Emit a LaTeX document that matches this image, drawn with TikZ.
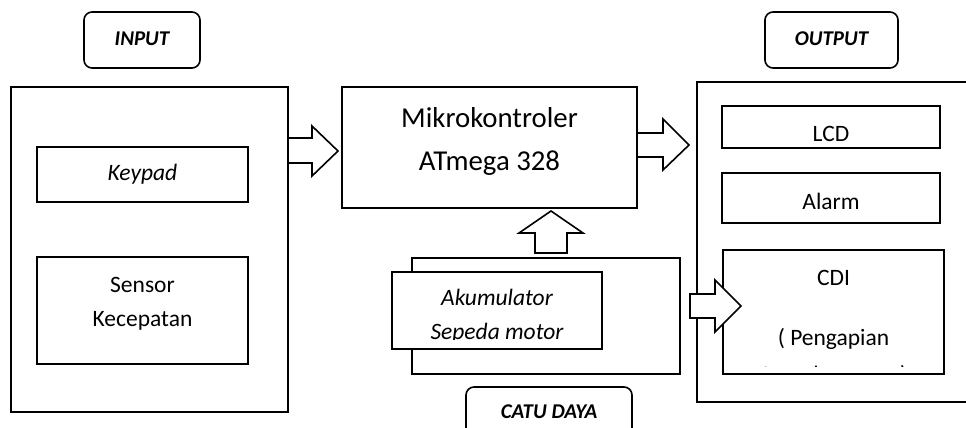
\documentclass[tikz,border=0pt]{standalone}
\usepackage{fontspec}
\setmainfont{Carlito}
\newcommand\fbig{\fontsize{28.8}{43}\selectfont}
\newcommand\fmid{\fontsize{23.5}{34}\selectfont}
\newcommand\flbl{\fontsize{21}{25}\selectfont\bfseries\itshape}
\begin{document}
\begin{tikzpicture}[x=1pt,y=-1pt,
  box/.style={draw, line width=1.6pt, fill=white, inner sep=0pt},
  lbl/.style={draw, line width=1.6pt, rounded corners=8pt, inner sep=0pt},
  txt/.style={inner sep=0pt, align=center},
  blockarrow/.style={draw, line width=1.6pt, fill=white, line join=miter}]
\useasboundingbox (0,0) rectangle (966,428);

% INPUT
\node[lbl, minimum width=116pt, minimum height=56pt] (inlbl) at (142,40) {};
\node[txt, font=\flbl] (inlblT) at (142,39) {INPUT};
\node[box, minimum width=277pt, minimum height=325pt] (input) at (149.5,249.5) {};
\node[box, minimum width=211pt, minimum height=55pt] (keypad) at (142.5,174.5) {};
\node[txt, font=\fmid\itshape] (keypadT) at (142.5,174) {Keypad};
\node[box, minimum width=211pt, minimum height=107pt] (sensor) at (142.5,310.5) {};
\node[txt, font=\fmid] (sensorT) at (142.5,304) {Sensor\\Kecepatan};

% Mikrokontroler
\node[box, minimum width=295pt, minimum height=121pt] (mcu) at (489.5,147.5) {};
\node[txt, font=\fbig] (mcuT) at (489.5,141.5) {Mikrokontroler\\ATmega 328};

% CATU DAYA
\node[box, minimum width=268pt, minimum height=116pt] (catu) at (546,316) {};
\node[box, minimum width=210pt, minimum height=77pt] (aku) at (497,310.5) {};
\begin{scope}
  \clip (392,272) rectangle (602,339);
  \node[txt, font=\fmid\itshape, anchor=north] (akuT) at (497,289) {Akumulator\\Sepeda motor};
\end{scope}
\draw[line width=1.6pt, rounded corners=8pt] (466,430) -- (466,387) -- (632,387) -- (632,430);
\node[txt, font=\flbl] (catulblT) at (549,412) {CATU DAYA};

% OUTPUT
\node[lbl, minimum width=133pt, minimum height=56pt] (outlbl) at (831.5,40) {};
\node[txt, font=\flbl] (outlblT) at (831.5,39) {OUTPUT};
\draw[line width=1.6pt] (966,82) -- (697,82) -- (697,402) -- (966,402);
\node[box, minimum width=218pt, minimum height=42pt] (lcd) at (831,127) {};
\node[txt, font=\fmid] (lcdT) at (831,134) {LCD};
\node[box, minimum width=218pt, minimum height=50pt] (alarm) at (831,198) {};
\node[txt, font=\fmid] (alarmT) at (831,201) {Alarm};
\node[box, minimum width=221pt, minimum height=124pt] (cdi) at (833.5,312) {};
\begin{scope}
  \clip (723,250) rectangle (944,366);
  \node[txt, font=\fontsize{23.5}{30}\selectfont, anchor=north] (cdiT) at (833.5,270) {CDI\\[0pt]\mbox{}\\( Pengapian\\[7pt]Sepeda motor )};
\end{scope}

% block arrows
\draw[blockarrow] (288,138) -- (312,138) -- (312,126) -- (338,151) -- (312,176) -- (312,163) -- (288,163) -- cycle;
\draw[blockarrow] (637,133) -- (663,133) -- (663,119) -- (689,145) -- (663,170) -- (663,157) -- (637,157) -- cycle;
\draw[blockarrow] (535,253) -- (535,233) -- (519,233) -- (551,211) -- (583,233) -- (567,233) -- (567,253) -- cycle;
\draw[blockarrow] (690,294) -- (715,294) -- (715,280) -- (741,306) -- (715,332) -- (715,318) -- (690,318) -- cycle;
\end{tikzpicture}
\end{document}
